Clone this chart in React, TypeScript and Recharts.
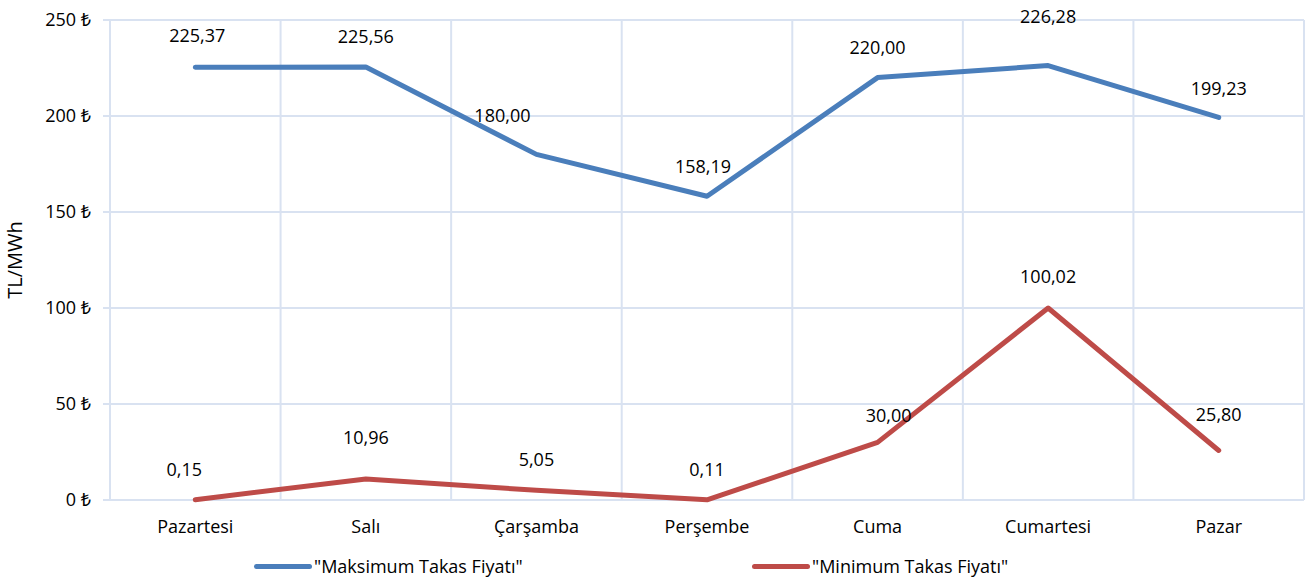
import React from 'react';
import {
  LineChart,
  Line,
  XAxis,
  YAxis,
  CartesianGrid,
  Legend,
  LabelList,
} from 'recharts';

const days = ['Pazartesi', 'Salı', 'Çarşamba', 'Perşembe', 'Cuma', 'Cumartesi', 'Pazar'];
const maxPrices = [225.37, 225.56, 180.0, 158.19, 220.0, 226.28, 199.23];
const minPrices = [0.15, 10.96, 5.05, 0.11, 30.0, 100.02, 25.8];
const yTicks = [0, 50, 100, 150, 200, 250];
const boundaryTicks = [0, 1, 2, 3, 4, 5, 6, 7];
const seriesNames = ['"Maksimum Takas Fiyatı"', '"Minimum Takas Fiyatı"'];

// label placement tweaks (style, not data)
const maxLabelShift = [
  [2, -32], [0, -31], [-34, -39], [-4, -30], [0, -31], [0, -50], [0, -29],
];
const minLabelShift = [
  [-11, -31], [0, -42], [0, -31], [0, -31], [11, -27], [0, -32], [0, -36],
];

const data = days.map((d, i) => ({
  day: d,
  idx: i + 0.5,
  max: maxPrices[i],
  min: minPrices[i],
}));

const FONT = '"Open Sans", "Noto Sans", sans-serif';
const BLUE = '#4a7ebb';
const RED = '#be4b48';
const GRID = '#d9e2f1';

const fmt = (v: number) => v.toFixed(2).replace('.', ',');

const makeLabel = (shift: number[][]) => (props: any) => {
  const { x, y, value, index } = props;
  const s = shift[index] || [0, -31];
  return (
    <text
      x={Number(x) + s[0]}
      y={Number(y) + s[1]}
      textAnchor="middle"
      dominantBaseline="central"
      fontFamily={FONT}
      fontSize={18}
      fill="#000"
    >
      {fmt(Number(value))}
    </text>
  );
};

const legendItems = [
  { name: seriesNames[0], color: BLUE, left: 254 },
  { name: seriesNames[1], color: RED, left: 752 },
];

const renderLegend = () => (
  <div style={{ position: 'relative', width: 1309, height: 37 }}>
    {legendItems.map((it) => (
      <div
        key={it.name}
        style={{
          position: 'absolute',
          left: it.left,
          top: 15,
          display: 'flex',
          alignItems: 'center',
          fontFamily: FONT,
          fontSize: 18,
          color: '#000',
          whiteSpace: 'nowrap',
          lineHeight: '22px',
        }}
      >
        <span
          style={{
            display: 'inline-block',
            width: 58,
            height: 5,
            borderRadius: 3,
            background: it.color,
            marginRight: 2,
          }}
        />
        <span>{it.name}</span>
      </div>
    ))}
  </div>
);

export default function App() {
  return (
    <div style={{ position: 'absolute', left: 0, top: 0, width: 1309, height: 577, background: '#fff' }}>
      <LineChart
        width={1309}
        height={577}
        data={data}
        margin={{ top: 20, right: 5, left: 0, bottom: 0 }}
      >
        <CartesianGrid xAxisId="num" stroke={GRID} strokeWidth={2} />
        <XAxis
          xAxisId="num"
          dataKey="idx"
          type="number"
          domain={[0, 7]}
          ticks={boundaryTicks}
          allowDataOverflow
          height={0}
          axisLine={false}
          tickLine={{ stroke: GRID, strokeWidth: 2 }}
          tickSize={7}
          tickFormatter={() => ''}
        />
        <XAxis
          xAxisId="cat"
          dataKey="day"
          scale="band"
          height={40}
          axisLine={false}
          tickLine={false}
          tickSize={7}
          tickMargin={13}
          tick={{ fontFamily: FONT, fontSize: 18, fill: '#000' }}
        />
        <YAxis
          domain={[0, 250]}
          ticks={yTicks}
          width={110}
          axisLine={false}
          tickLine={{ stroke: GRID, strokeWidth: 2 }}
          tickSize={7}
          tickMargin={12}
          tickFormatter={(v: number) => `${v} ₺`}
          tick={{ fontFamily: FONT, fontSize: 18, fill: '#000' }}
          label={{
            value: 'TL/MWh',
            angle: -90,
            position: 'insideLeft',
            offset: 15,
            style: { fontFamily: FONT, fontSize: 20, fill: '#000', textAnchor: 'middle' },
          }}
        />
        <Legend verticalAlign="bottom" height={37} content={renderLegend} wrapperStyle={{ left: 0, width: 1309 }} />
        <Line
          xAxisId="cat"
          dataKey="max"
          name={seriesNames[0]}
          stroke={BLUE}
          strokeWidth={5}
          strokeLinecap="round"
          strokeLinejoin="round"
          dot={false}
          activeDot={false}
          isAnimationActive={false}
        >
          <LabelList dataKey="max" content={makeLabel(maxLabelShift)} />
        </Line>
        <Line
          xAxisId="cat"
          dataKey="min"
          name={seriesNames[1]}
          stroke={RED}
          strokeWidth={5}
          strokeLinecap="round"
          strokeLinejoin="round"
          dot={false}
          activeDot={false}
          isAnimationActive={false}
        >
          <LabelList dataKey="min" content={makeLabel(minLabelShift)} />
        </Line>
      </LineChart>
    </div>
  );
}
